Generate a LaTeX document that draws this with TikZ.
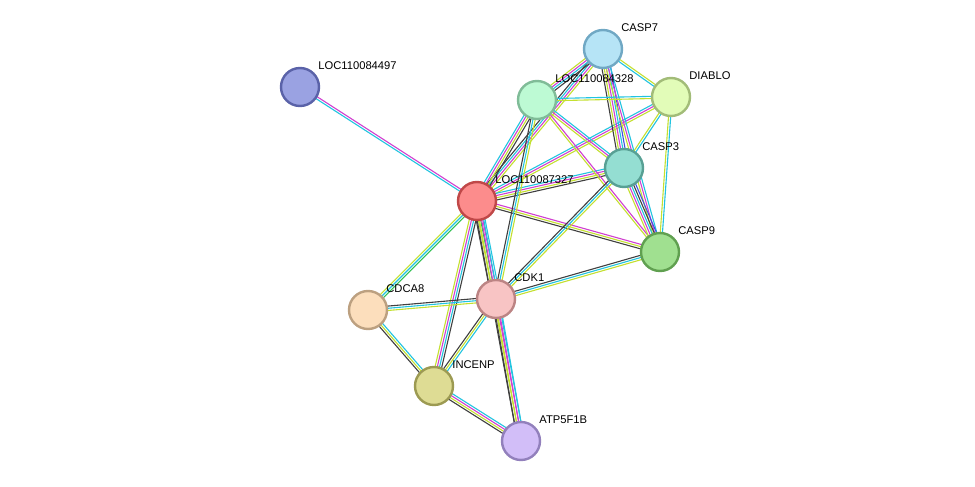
\documentclass[tikz,border=0pt]{standalone}
\usepackage{fontspec}
\setmainfont{Liberation Sans}
\usetikzlibrary{calc}
\pgfdeclarelayer{bg}\pgfsetlayers{bg,main}
\definecolor{ecy}{HTML}{22C4E0}
\definecolor{emg}{HTML}{D040D0}
\definecolor{eyl}{HTML}{C4E030}
\definecolor{ebk}{HTML}{404040}
\definecolor{ebl}{HTML}{4050E0}
\definecolor{egr}{HTML}{30C050}
\definecolor{f1}{HTML}{9AA2E2}\definecolor{d1}{HTML}{5A62A8}
\definecolor{f2}{HTML}{B6E4F6}\definecolor{d2}{HTML}{70A8C4}
\definecolor{f3}{HTML}{BDFAD4}\definecolor{d3}{HTML}{80BC98}
\definecolor{f4}{HTML}{E2FCB8}\definecolor{d4}{HTML}{A2BC78}
\definecolor{f5}{HTML}{94DED2}\definecolor{d5}{HTML}{58A094}
\definecolor{f6}{HTML}{FC8C8C}\definecolor{d6}{HTML}{C04848}
\definecolor{f7}{HTML}{A0E090}\definecolor{d7}{HTML}{60A050}
\definecolor{f8}{HTML}{F8C4C4}\definecolor{d8}{HTML}{BC8484}
\definecolor{f9}{HTML}{FCDEBC}\definecolor{d9}{HTML}{BCA080}
\definecolor{f10}{HTML}{DEDC94}\definecolor{d10}{HTML}{9C9A52}
\definecolor{f11}{HTML}{D2BEF8}\definecolor{d11}{HTML}{9280BC}
\newcommand\edge[4]{%
 \foreach \c [count=\i] in {#4}{%
  \pgfmathsetmacro\o{(\i-(#3+1)/2)*1.1}%
  \draw[\c,line width=0.55pt] ($(#1.center)!\o pt!90:(#2.center)$) -- ($(#2.center)!\o pt!-90:(#1.center)$);}}
\tikzset{prot/.style={circle,minimum size=19pt,inner sep=0pt,line width=1.2pt},
 lab/.style={anchor=west,font=\fontsize{5.6pt}{6pt}\selectfont,inner sep=0pt}}
\begin{document}
\begin{tikzpicture}[x=0.5pt,y=-0.5pt]
\useasboundingbox (0,0) rectangle (975,487);
\node[prot,fill=f1,draw=d1] (p497) at (300,87) {};
\node[prot,fill=f2,draw=d2] (c7) at (603,49) {};
\node[prot,fill=f3,draw=d3] (p328) at (537,100) {};
\node[prot,fill=f4,draw=d4] (dia) at (671,97) {};
\node[prot,fill=f5,draw=d5] (c3) at (624,168) {};
\node[prot,fill=f6,draw=d6] (p327) at (477,201) {};
\node[prot,fill=f7,draw=d7] (c9) at (660,252) {};
\node[prot,fill=f8,draw=d8] (cdk) at (496,299) {};
\node[prot,fill=f9,draw=d9] (cd8) at (368,310) {};
\node[prot,fill=f10,draw=d10] (inc) at (434,386) {};
\node[prot,fill=f11,draw=d11] (atp) at (521,441) {};
\node[lab] at (318,66) {LOC110084497};
\node[lab] at (621,28) {CASP7};
\node[lab] at (555,79) {LOC110084328};
\node[lab] at (689,76) {DIABLO};
\node[lab] at (642,147) {CASP3};
\node[lab] at (495,180) {LOC110087327};
\node[lab] at (678,231) {CASP9};
\node[lab] at (514,278) {CDK1};
\node[lab] at (386,289) {CDCA8};
\node[lab] at (452,365) {INCENP};
\node[lab] at (539,420) {ATP5F1B};
\begin{pgfonlayer}{bg}
\fill[white] (0,0) rectangle (975,487);
\edge{p497}{p327}{2}{ecy,emg}
\edge{p327}{c7}{4}{eyl,emg,ecy,ebk}
\edge{p327}{p328}{4}{ebk,eyl,emg,ecy}
\edge{p327}{dia}{3}{eyl,emg,ecy}
\edge{p327}{c3}{4}{ebk,eyl,emg,ecy}
\edge{p327}{c9}{3}{ebk,eyl,emg}
\edge{p327}{cdk}{5}{ebk,eyl,egr,emg,ecy}
\edge{p327}{cd8}{3}{eyl,ecy,egr}
\edge{p327}{inc}{4}{eyl,emg,ecy,ebk}
\edge{p327}{atp}{4}{ebk,eyl,emg,ecy}
\edge{c7}{p328}{4}{eyl,emg,ecy,ebk}
\edge{c7}{dia}{2}{ecy,eyl}
\edge{c7}{c3}{5}{ebk,eyl,emg,ecy,ebl}
\edge{c7}{c9}{3}{eyl,emg,ecy}
\edge{p328}{dia}{2}{eyl,ecy}
\edge{p328}{c3}{3}{eyl,emg,ecy}
\edge{p328}{c9}{2}{eyl,emg}
\edge{p328}{cdk}{3}{ebk,ecy,eyl}
\edge{dia}{c3}{2}{eyl,ecy}
\edge{dia}{c9}{2}{eyl,ecy}
\edge{c3}{c9}{5}{eyl,emg,ecy,ebk,ebl}
\edge{c3}{cdk}{3}{ebk,ecy,eyl}
\edge{c9}{cdk}{3}{ebk,ecy,eyl}
\edge{cdk}{cd8}{3}{ebk,ecy,eyl}
\edge{cdk}{inc}{3}{ebk,eyl,ecy}
\edge{cdk}{atp}{4}{ebk,eyl,emg,ecy}
\edge{cd8}{inc}{3}{ebk,eyl,ecy}
\edge{inc}{atp}{4}{ebk,eyl,emg,ecy}
\end{pgfonlayer}
\end{tikzpicture}
\end{document}
